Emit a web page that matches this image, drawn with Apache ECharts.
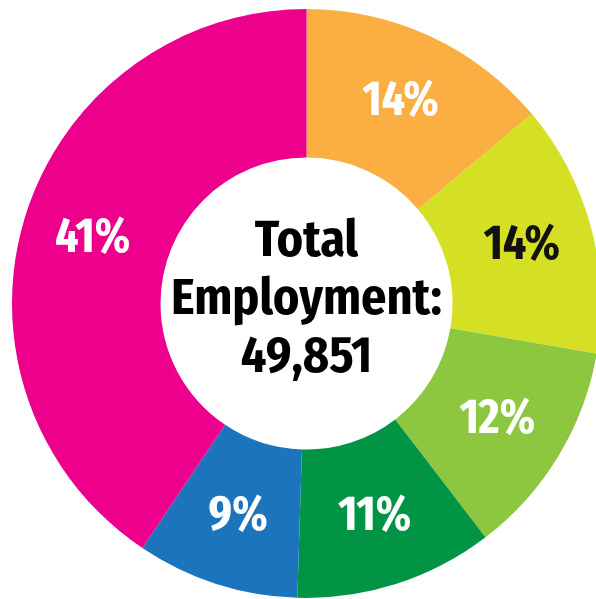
<!DOCTYPE html>
<html>
<head>
<meta charset="utf-8">
<script src="https://cdn.jsdelivr.net/npm/echarts@6/dist/echarts.min.js"></script>
<style>
  html, body { margin: 0; padding: 0; background: #ffffff; }
  #chart { width: 596px; height: 599px; }
</style>
</head>
<body>
<div id="chart"></div>
<script>
// Share of total employment by segment (percent), clockwise from 12 o'clock
const segments = ['Segment A', 'Segment B', 'Segment C', 'Segment D', 'Segment E', 'Segment F'];
const shares = [14, 14, 12, 11, 9, 41];
const sliceColors = ['#FBAF43', '#D5DF23', '#8DC63F', '#009444', '#1C75BC', '#EC008C'];
const labelColors = ['#ffffff', '#111111', '#ffffff', '#ffffff', '#ffffff', '#ffffff'];
const totalEmployment = 49851;

const LABEL_FONT = '"Fira Sans Extra Condensed", "Fira Sans Condensed", "Roboto Condensed", sans-serif';
const CENTER_FONT = '"Fira Sans Condensed", "Roboto Condensed", sans-serif';

const chart = echarts.init(document.getElementById('chart'), null, { renderer: 'canvas' });

chart.setOption({
  animation: false,
  backgroundColor: '#ffffff',
  series: [{
    type: 'pie',
    center: [306.5, 303.5],
    radius: [146, 294.5],
    startAngle: 90,
    clockwise: true,
    avoidLabelOverlap: false,
    silent: true,
    label: {
      show: true,
      position: 'inside',
      fontFamily: LABEL_FONT,
      fontWeight: 'bold',
      fontSize: 49,
      formatter: p => p.value + '%'
    },
    labelLine: { show: false },
    data: segments.map((name, i) => ({
      name,
      value: shares[i],
      itemStyle: { color: sliceColors[i] },
      label: { color: labelColors[i] }
    }))
  }],
  graphic: [{
    type: 'text',
    x: 306.5,
    y: 300,
    style: {
      text: 'Total\nEmployment:\n' + totalEmployment.toLocaleString('en-US'),
      fontFamily: CENTER_FONT,
      fontWeight: 'bold',
      fontSize: 50,
      lineHeight: 58,
      fill: '#000000',
      align: 'center',
      verticalAlign: 'middle'
    }
  }]
});
</script>
</body>
</html>
